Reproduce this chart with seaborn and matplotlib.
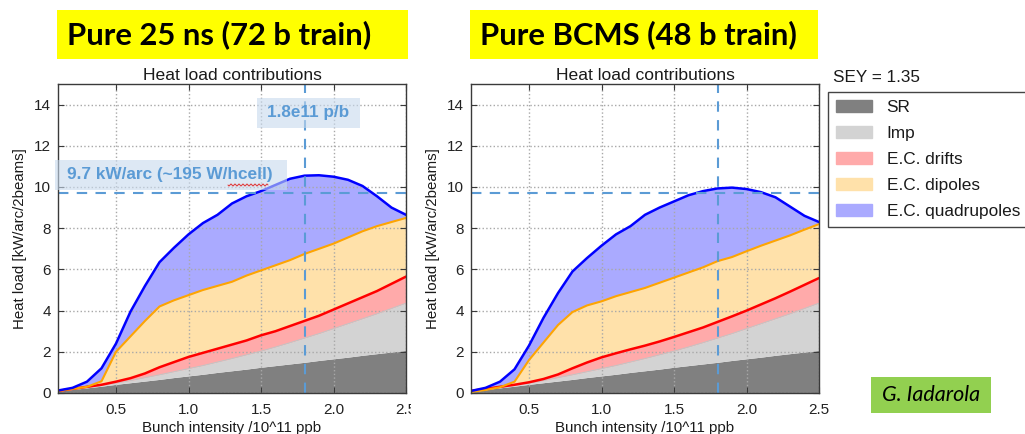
import numpy as np
import matplotlib
matplotlib.use("Agg")
import matplotlib.pyplot as plt
import seaborn as sns
from matplotlib.patches import Rectangle, Patch
from matplotlib.lines import Line2D
from matplotlib.transforms import Bbox

# Bunch intensity grid [1e11 p/b]
intensity = [0.1, 0.2, 0.3, 0.4, 0.5, 0.6, 0.7, 0.8, 0.9, 1.0, 1.1, 1.2, 1.3,
             1.4, 1.5, 1.6, 1.7, 1.8, 1.9, 2.0, 2.1, 2.2, 2.3, 2.4, 2.5]

# Cumulative heat load [kW/arc/2beams], stacked SR -> Imp -> drifts -> dipoles -> quadrupoles
sr_top = [0.08, 0.17, 0.25, 0.33, 0.42, 0.50, 0.58, 0.66, 0.75, 0.83, 0.91, 1.00, 1.08,
          1.16, 1.25, 1.33, 1.41, 1.49, 1.58, 1.66, 1.74, 1.83, 1.91, 1.99, 2.07]
imp_top = [0.09, 0.18, 0.28, 0.38, 0.48, 0.60, 0.74, 0.88, 1.03, 1.18, 1.33, 1.50, 1.67,
           1.85, 2.03, 2.23, 2.44, 2.66, 2.88, 3.12, 3.36, 3.60, 3.84, 4.10, 4.36]

# 25 ns, 72 bunch trains
std_drifts_top = [0.10, 0.20, 0.30, 0.40, 0.55, 0.72, 0.95, 1.25, 1.50, 1.75, 1.95, 2.15, 2.35,
                  2.55, 2.80, 3.00, 3.25, 3.50, 3.75, 4.05, 4.35, 4.65, 4.95, 5.30, 5.65]
std_dipoles_top = [0.10, 0.20, 0.30, 0.57, 2.00, 2.75, 3.50, 4.20, 4.50, 4.75, 5.00, 5.20, 5.40,
                   5.70, 5.95, 6.20, 6.45, 6.75, 7.00, 7.25, 7.55, 7.85, 8.10, 8.30, 8.50]
std_quads_top = [0.12, 0.25, 0.55, 1.20, 2.40, 3.95, 5.20, 6.35, 7.05, 7.70, 8.25, 8.65, 9.20,
                 9.55, 9.80, 10.10, 10.40, 10.55, 10.57, 10.50, 10.35, 10.05, 9.55, 9.00, 8.65]

# BCMS, 48 bunch trains
bcms_drifts_top = [0.10, 0.20, 0.30, 0.40, 0.52, 0.68, 0.90, 1.20, 1.48, 1.73, 1.93, 2.12, 2.30,
                   2.50, 2.72, 2.95, 3.18, 3.45, 3.72, 4.00, 4.30, 4.60, 4.92, 5.25, 5.58]
bcms_dipoles_top = [0.05, 0.15, 0.28, 0.55, 1.60, 2.45, 3.30, 3.93, 4.25, 4.45, 4.70, 4.90, 5.10,
                    5.35, 5.60, 5.85, 6.10, 6.40, 6.60, 6.88, 7.15, 7.40, 7.65, 7.93, 8.20]
bcms_quads_top = [0.10, 0.25, 0.55, 1.15, 2.30, 3.65, 4.85, 5.90, 6.55, 7.15, 7.70, 8.10, 8.65,
                  9.00, 9.30, 9.60, 9.80, 9.93, 9.97, 9.90, 9.75, 9.50, 9.05, 8.60, 8.30]

labels = ["SR", "Imp", "E.C. drifts", "E.C. dipoles", "E.C. quadrupoles"]
fill_colors = ["#808080", "#d3d3d3", "#ffaaaa", "#ffe1aa", "#aaaaff"]
x_ticks = [0.5, 1.0, 1.5, 2.0, 2.5]
y_ticks = [0, 2, 4, 6, 8, 10, 12, 14]
design_load = 9.7       # kW/arc
design_intensity = 1.8  # 1e11 p/b

sns.set_theme(style="whitegrid")
plt.rcParams.update({
    "axes.edgecolor": "#3a3a3a",
    "axes.linewidth": 1.0,
    "grid.color": "#a8a8a8",
    "grid.linestyle": ":",
    "grid.linewidth": 1.0,
    "xtick.direction": "in",
    "ytick.direction": "in",
    "xtick.bottom": True,
    "xtick.top": True,
    "ytick.left": True,
    "ytick.right": True,
    "xtick.major.size": 4,
    "ytick.major.size": 4,
    "xtick.major.width": 0.8,
    "ytick.major.width": 0.8,
    "xtick.color": "#3a3a3a",
    "ytick.color": "#3a3a3a",
    "xtick.labelcolor": "#222222",
    "ytick.labelcolor": "#222222",
    "xtick.labelsize": 11,
    "ytick.labelsize": 11,
    "text.color": "#1a1a1a",
    "axes.labelcolor": "#1a1a1a",
})
plt.rcParams["font.family"] = ["Liberation Sans", "DejaVu Sans"]

W, H = 1025, 434
fig = plt.figure(figsize=(W / 100, H / 100), dpi=100)


def fx(px):
    return px / W


def fy(py):
    return 1 - py / H


def draw_panel(ax, drifts_top, dipoles_top, quads_top):
    x = np.asarray(intensity)
    levels = [np.zeros_like(x), np.asarray(sr_top), np.asarray(imp_top),
              np.asarray(drifts_top), np.asarray(dipoles_top), np.asarray(quads_top)]
    for lo, hi, c in zip(levels[:-1], levels[1:], fill_colors):
        ax.fill_between(x, lo, hi, color=c, lw=0, zorder=2)
    sns.lineplot(x=x, y=imp_top, ax=ax, color="#c4c4c4", lw=0.8, zorder=3)
    sns.lineplot(x=x, y=drifts_top, ax=ax, color="#ff0000", lw=1.8, zorder=4)
    sns.lineplot(x=x, y=dipoles_top, ax=ax, color="#ffa500", lw=1.5, zorder=4)
    sns.lineplot(x=x, y=quads_top, ax=ax, color="#0000ff", lw=1.8, zorder=4)
    ax.axhline(design_load, color="#5b9bd5", ls=(0, (5, 4)), lw=1.5, zorder=5)
    ax.axvline(design_intensity, color="#5b9bd5", ls=(0, (5, 4)), lw=1.5, zorder=5)
    ax.set_xlim(0.1, 2.5)
    ax.set_ylim(0, 15)
    ax.set_xticks(x_ticks)
    ax.set_xticklabels([f"{t:.1f}" for t in x_ticks])
    ax.set_yticks(y_ticks)
    ax.set_title("Heat load contributions", fontsize=12.6, pad=3)
    ax.set_xlabel("Bunch intensity /10^11 ppb", fontsize=10.8, labelpad=3)
    ax.set_ylabel("Heat load [kW/arc/2beams]", fontsize=10.8, labelpad=5)
    ax.grid(True, zorder=1)
    ax.set_axisbelow(False)
    for s in ax.spines.values():
        s.set_zorder(6)
    ax.tick_params(axis="y", pad=5)
    ax.tick_params(axis="x", pad=7)


ax_l = fig.add_axes([fx(58), fy(393), fx(348), 309 / H])
ax_r = fig.add_axes([fx(471), fy(393), fx(348), 309 / H])
draw_panel(ax_l, std_drifts_top, std_dipoles_top, std_quads_top)
draw_panel(ax_r, bcms_drifts_top, bcms_dipoles_top, bcms_quads_top)

# Panel headings
for x0, x1, txt in [(57, 408, "Pure 25 ns (72 b train)"), (470, 818, "Pure BCMS (48 b train)")]:
    fig.add_artist(Rectangle((fx(x0), fy(59)), fx(x1 - x0), 49 / H,
                             transform=fig.transFigure, facecolor="#ffff00", edgecolor="none"))
    fig.text(fx(x0 + 10), fy(35), txt, fontsize=22.3, fontweight="bold", family=["Lato", "DejaVu Sans"],
             color="black", va="center", ha="left")

# Design-value call-outs on the left panel
box_fc = (0.78, 0.85, 0.93, 0.6)
fig.add_artist(Rectangle((fx(257), fy(128)), fx(103), 30 / H, transform=fig.transFigure,
                         facecolor=box_fc, edgecolor="none", zorder=7))
fig.text(fx(267), fy(113), "1.8e11 p/b", fontsize=12.3, fontweight="bold", color="#5b9bd5",
         ha="left", va="center", zorder=8)
fig.add_artist(Rectangle((fx(55), fy(190)), fx(232), 30 / H, transform=fig.transFigure,
                         facecolor=box_fc, edgecolor="none", zorder=7))
fig.text(fx(67), fy(175), "9.7 kW/arc (~195 W/hcell)", fontsize=12.4, fontweight="bold",
         color="#5b9bd5", ha="left", va="center", zorder=8)
wx = np.linspace(228, 268, 60)
wy = 185 + 1.0 * np.sin((wx - 228) * 2 * np.pi / 4)
fig.add_artist(Line2D(fx(wx), fy(wy), transform=fig.transFigure, color="#e03030", lw=0.7, zorder=8))

# Legend
handles = [Patch(facecolor=c, edgecolor=c, label=l) for c, l in zip(fill_colors, labels)]
fig.text(fx(833), fy(77), "SEY = 1.35", fontsize=12.3, va="center", ha="left")
fig.legend(handles=handles, loc="upper left", bbox_to_anchor=(fx(828), fy(92)),
           frameon=True, fancybox=False, framealpha=1, edgecolor="#444444",
           fontsize=12.4, handlelength=2.1, handleheight=0.75, handletextpad=0.85,
           labelspacing=0.62, borderpad=0.45, borderaxespad=0)

# Author tag
fig.add_artist(Rectangle((fx(871), fy(413)), fx(120), 36 / H, transform=fig.transFigure,
                         facecolor="#92d050", edgecolor="none"))
fig.text(fx(931), fy(395), "G. Iadarola", fontsize=15.5, style="italic",
         family=["Lato", "DejaVu Sans"], color="black", ha="center", va="center")

# The last x tick label of the left panel is cut at the panel boundary
fig.canvas.draw()
clip = Bbox.from_extents(0, 0, 411, H)
for lab in ax_l.get_xticklabels():
    if lab.get_text() == "2.5":
        lab.set_clip_box(clip)
        lab.set_clip_on(True)

fig.savefig("out.png", dpi=100)
